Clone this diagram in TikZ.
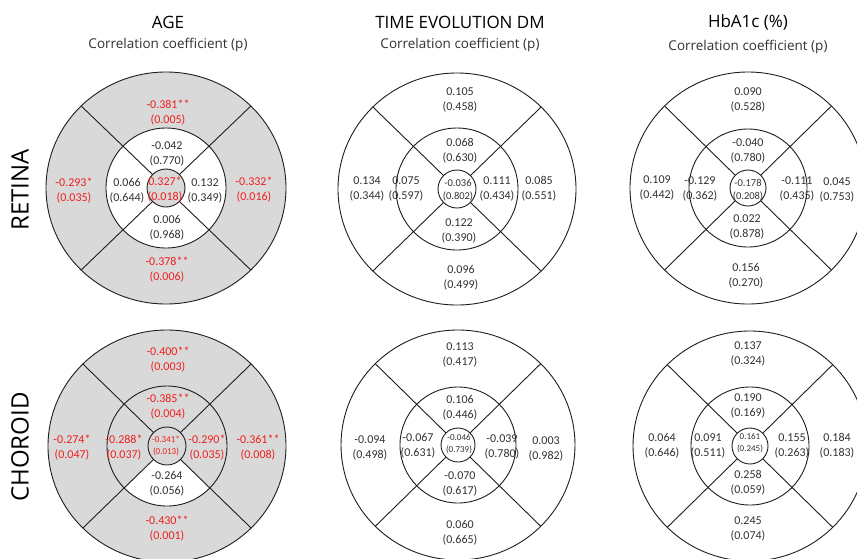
\documentclass[tikz,border=0pt]{standalone}
\usepackage{fontspec}
\setmainfont{Carlito}
\newfontfamily\hdfont{Open Sans}
\usetikzlibrary{calc}
\definecolor{sig}{RGB}{240,30,30}
\definecolor{txt}{RGB}{50,50,50}
\definecolor{seg}{RGB}{217,217,217}
\definecolor{ln}{RGB}{30,30,30}
\tikzset{
  val/.style={align=center, text=txt, inner sep=0pt, font=\fontsize{12}{15}\selectfont},
  sg/.style={val, text=sig},
  mid/.style={font=\fontsize{10.5}{13}\selectfont},
  tiny/.style={font=\fontsize{9}{12}\selectfont},
  gridline/.style={draw=ln, line width=0.9pt},
  ttl/.style={inner sep=0pt, text=black, font=\hdfont\fontsize{17}{20}\selectfont},
  subttl/.style={inner sep=0pt, text=txt, font=\hdfont\fontsize{13.5}{16}\selectfont},
  rowlbl/.style={inner sep=0pt, text=black, rotate=90, font=\hdfont\fontsize{24}{28}\selectfont},
}
% #1 name, #2 cx, #3 cy, #4 rx, #5 ry, #6 rm, #7 rc
\newcommand\etdrs[7]{%
  \draw[gridline] (#1) ellipse[x radius=#4, y radius=#5];
  \draw[gridline] (#1) circle[radius=#6];
  \draw[gridline] (#1) circle[radius=#7];
  \foreach \a in {45,135,225,315}
    \draw[gridline] ($(#1)+(\a:#7)$) -- ($(#1)+({#4*cos(\a)},{#5*sin(\a)})$);
}
\newcommand\blk[5]{\node[#1] (#2) at (#3) {#4\\#5};}
\begin{document}
\begin{tikzpicture}[x=1pt,y=-1pt]
\useasboundingbox (0,0) rectangle (857,558);
\fill[white] (0,0) rectangle (857,558);
\clip (0,0) rectangle (857,558);

\coordinate (g1) at (166,188);
\coordinate (g2) at (457,189);
\coordinate (g3) at (748,188);
\coordinate (g4) at (167,446);
\coordinate (g5) at (458,445);
\coordinate (g6) at (750,446);

% fills
\fill[seg, even odd rule] (g1) ellipse[x radius=120, y radius=116] (g1) circle[radius=60];
\fill[seg] (g1) circle[radius=19];
\fill[seg] (g4) ellipse[x radius=119, y radius=116];
\fill[white] ($(g4)+(45:19)$) -- ($(g4)+(45:60)$) arc[start angle=45, end angle=135, radius=60]
  -- ($(g4)+(135:19)$) arc[start angle=135, end angle=45, radius=19] -- cycle;

\etdrs{g1}{166}{188}{120}{116}{60}{19}
\etdrs{g2}{457}{189}{119}{116}{61}{19}
\etdrs{g3}{748}{188}{118}{116}{59}{18}
\etdrs{g4}{167}{446}{119}{116}{60}{19}
\etdrs{g5}{458}{445}{117}{115}{58}{17}
\etdrs{g6}{750}{446}{117}{115}{59}{18}

% titles
\node[ttl] (t1) at (168,22) {AGE};
\node[subttl] (s1) at (168,45) {Correlation coefficient (p)};
\node[ttl] (t2) at (460,22) {TIME EVOLUTION DM};
\node[subttl] (s2) at (460,45) {Correlation coefficient (p)};
\node[ttl] (t3) at (748,22) {HbA1c (\%)};
\node[subttl] (s3) at (748,47) {Correlation coefficient (p)};
\node[rowlbl] (r1) at (20,190) {RETINA};
\node[rowlbl] (r2) at (20,447) {CHOROID};

% chart 1
\blk{sg}{a1}{168,113}{-0.381**}{(0.005)}
\blk{val}{a2}{167,154}{-0.042}{(0.770)}
\blk{sg}{a3}{74,191}{-0.293*}{(0.035)}
\blk{val}{a4}{127,191}{0.066}{(0.644)}
\blk{sg}{a5}{165,190}{0.327*}{(0.018)}
\blk{val}{a6}{205,191}{0.132}{(0.349)}
\blk{sg}{a7}{254,190}{-0.332*}{(0.016)}
\blk{val}{a8}{167,228}{0.006}{(0.968)}
\blk{sg}{a9}{167,270}{-0.378**}{(0.006)}

% chart 2
\blk{val}{b1}{460,100}{0.105}{(0.458)}
\blk{val}{b2}{460,151}{0.068}{(0.630)}
\blk{val}{b3}{367,189}{0.134}{(0.344)}
\blk{val}{b4}{406,189}{0.075}{(0.597)}
\blk{val,mid}{b5}{458,190}{-0.036}{(0.802)}
\blk{val}{b6}{497,189}{0.111}{(0.434)}
\blk{val}{b7}{539,189}{0.085}{(0.551)}
\blk{val}{b8}{459,231}{0.122}{(0.390)}
\blk{val}{b9}{461,278}{0.096}{(0.499)}

% chart 3
\blk{val}{c1}{748,100}{0.090}{(0.528)}
\blk{val}{c2}{748,151}{-0.040}{(0.780)}
\blk{val}{c3}{657,188}{0.109}{(0.442)}
\blk{val}{c4}{700,189}{-0.129}{(0.362)}
\blk{val,mid}{c5}{748,190}{-0.178}{(0.208)}
\blk{val}{c6}{797,189}{-0.111}{(0.435)}
\blk{val}{c7}{837,190}{0.045}{(0.753)}
\blk{val}{c8}{747,227}{0.022}{(0.878)}
\blk{val}{c9}{746,276}{0.156}{(0.270)}

% chart 4
\blk{sg}{d1}{168,360}{-0.400**}{(0.003)}
\blk{sg}{d2}{168,407}{-0.385**}{(0.004)}
\blk{sg}{d3}{72,448}{-0.274*}{(0.047)}
\blk{sg}{d4}{124,448}{-0.288*}{(0.037)}
\blk{sg,tiny}{d5}{166,446}{-0.341*}{(0.013)}
\blk{sg}{d6}{207,448}{-0.290*}{(0.035)}
\blk{sg}{d7}{258,448}{-0.361**}{(0.008)}
\blk{val}{d8}{167,484}{-0.264}{(0.056)}
\blk{sg}{d9}{167,529}{-0.430**}{(0.001)}

% chart 5
\blk{val}{e1}{460,355}{0.113}{(0.417)}
\blk{val}{e2}{460,408}{0.106}{(0.446)}
\blk{val}{e3}{370,448}{-0.094}{(0.498)}
\blk{val}{e4}{418,446}{-0.067}{(0.631)}
\blk{val,tiny}{e5}{459,444}{-0.046}{(0.739)}
\blk{val}{e6}{502,447}{-0.039}{(0.780)}
\blk{val}{e7}{546,449}{0.003}{(0.982)}
\blk{val}{e8}{460,484}{-0.070}{(0.617)}
\blk{val}{e9}{460,533}{0.060}{(0.665)}

% chart 6
\blk{val}{f1}{748,354}{0.137}{(0.324)}
\blk{val}{f2}{748,406}{0.190}{(0.169)}
\blk{val}{f3}{662,446}{0.064}{(0.646)}
\blk{val}{f4}{708,446}{0.091}{(0.511)}
\blk{val,tiny}{f5}{750,443}{0.161}{(0.245)}
\blk{val}{f6}{792,446}{0.155}{(0.263)}
\blk{val}{f7}{837,446}{0.184}{(0.183)}
\blk{val}{f8}{748,483}{0.258}{(0.059)}
\blk{val}{f9}{748,529}{0.245}{(0.074)}
\end{tikzpicture}
\end{document}
